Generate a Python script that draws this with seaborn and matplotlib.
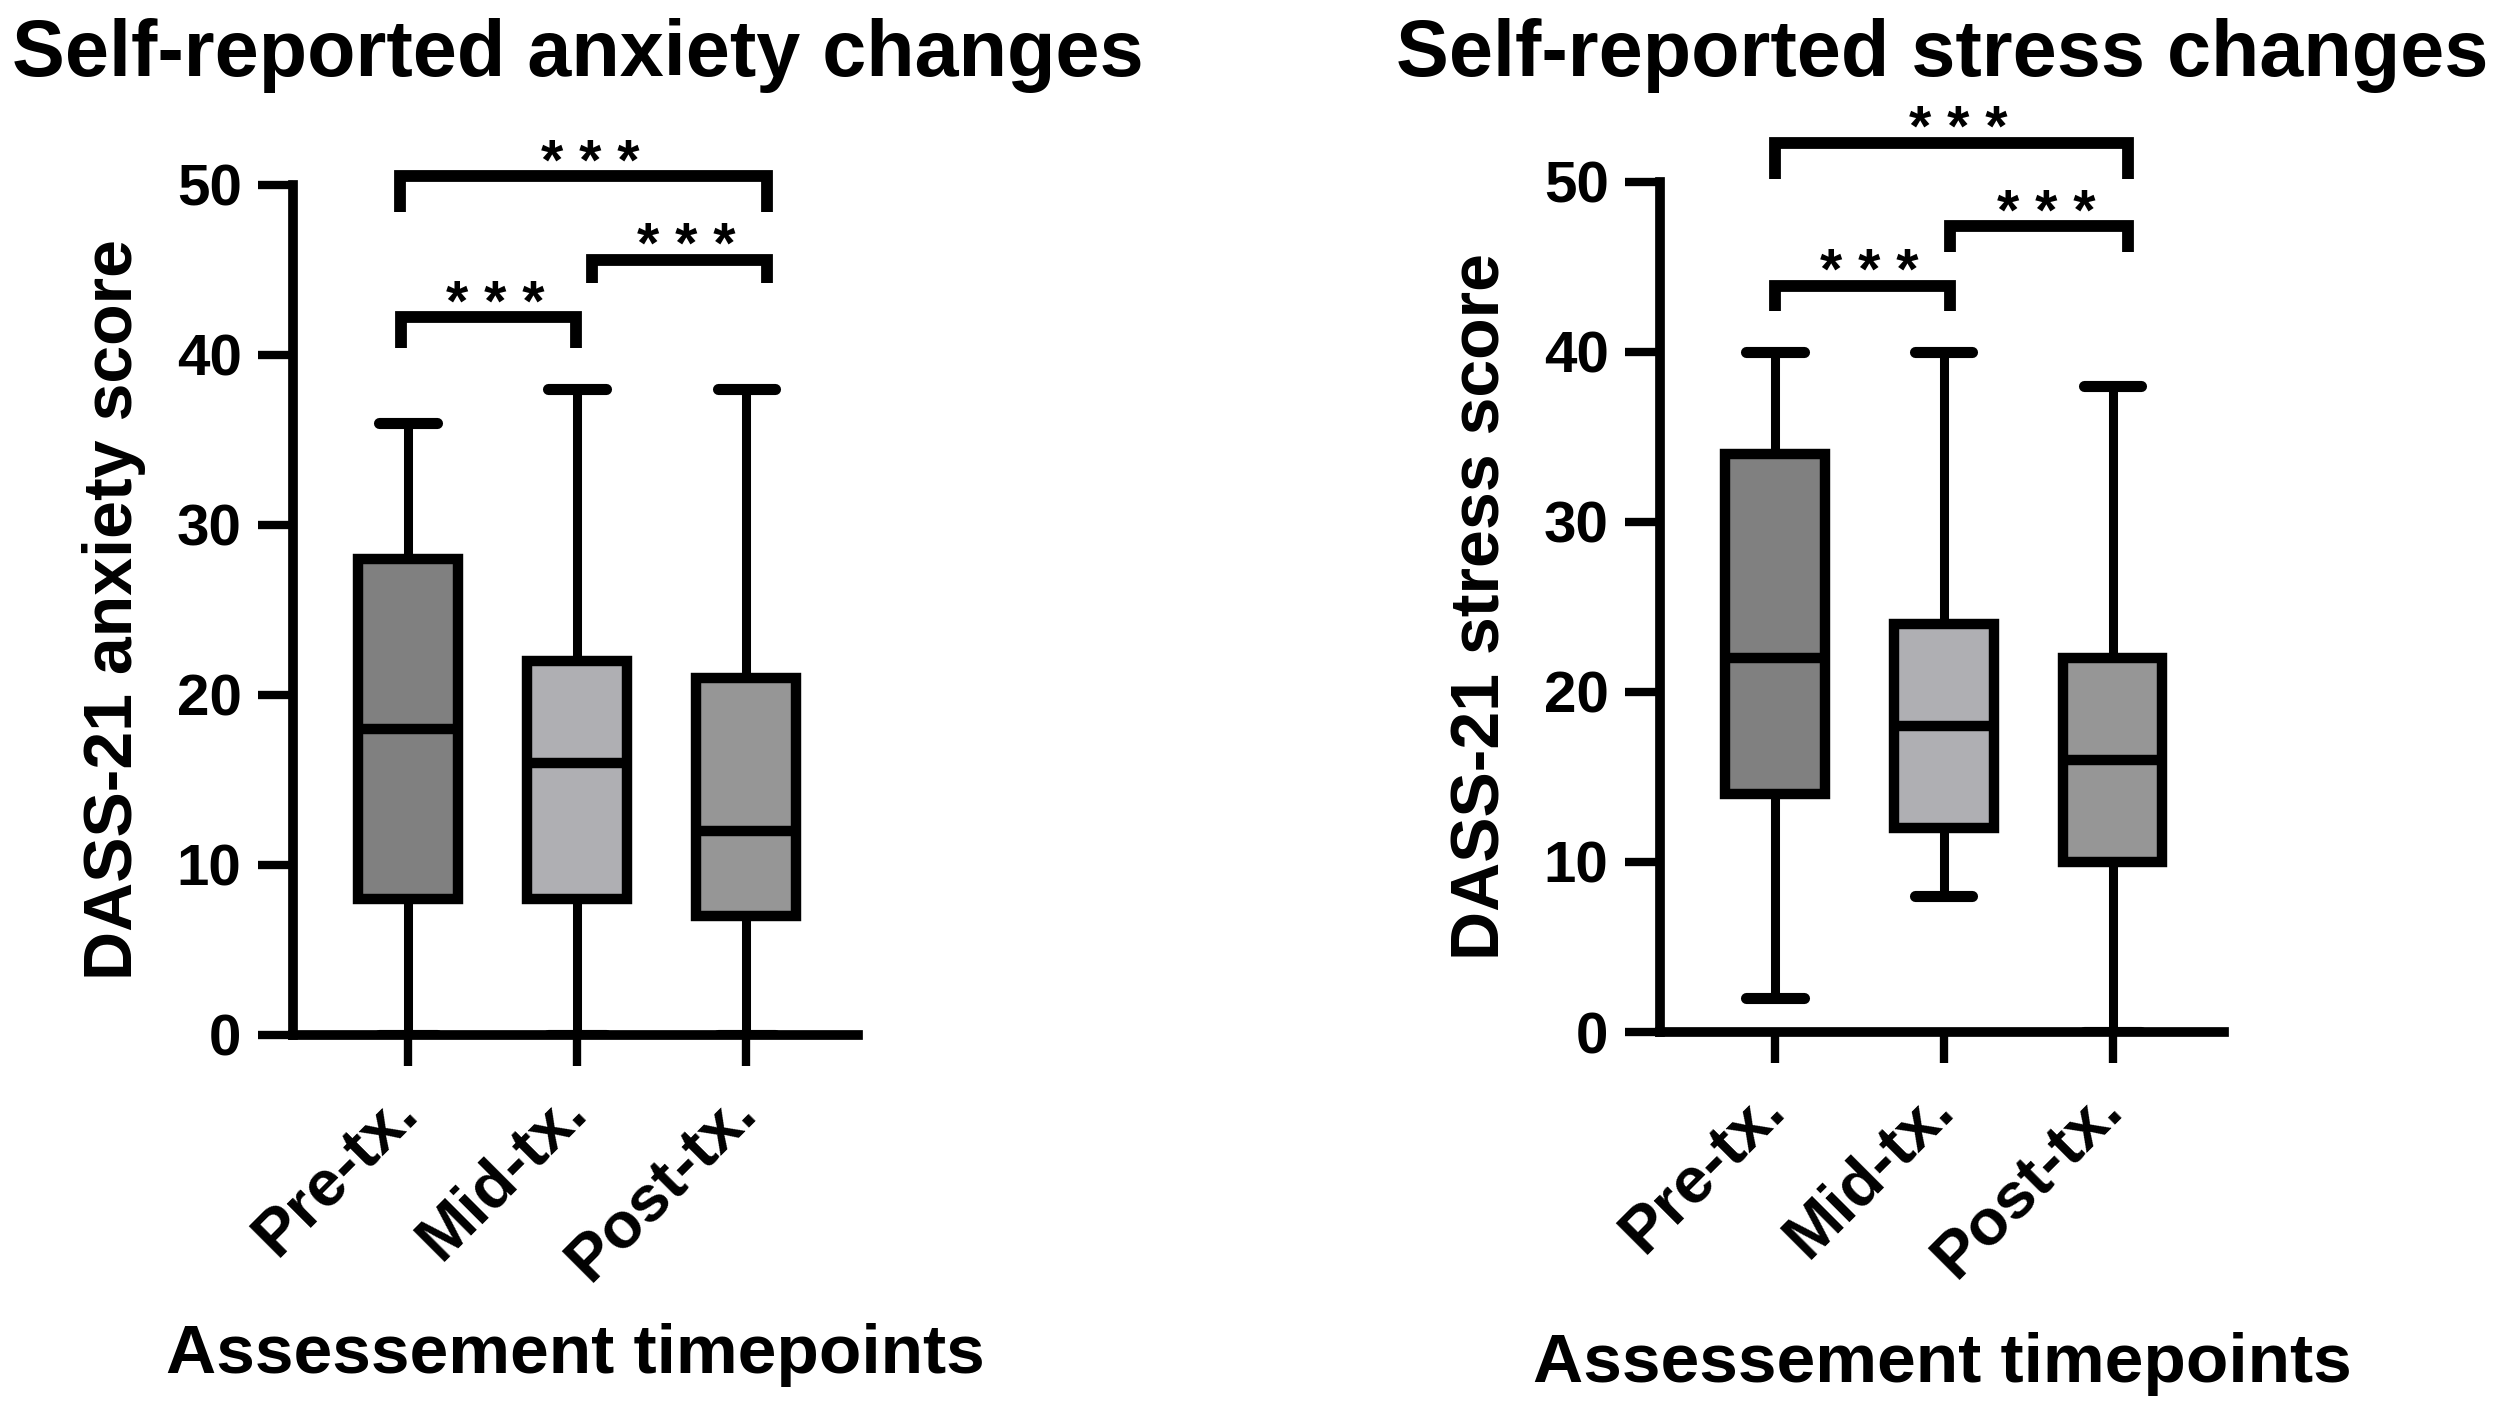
import numpy as np
import pandas as pd
import matplotlib
matplotlib.use('Agg')
import matplotlib.pyplot as plt
import seaborn as sns

timepoints = ['Pre-tx.', 'Mid-tx.', 'Post-tx.']
box_colors = ['#808080', '#afafb3', '#969696']

# five-number summaries: min, Q1, median, Q3, max
anxiety_pre = [0, 8, 18, 28, 36]
anxiety_mid = [0, 8, 16, 22, 38]
anxiety_post = [0, 7, 12, 21, 38]

stress_pre = [2, 14, 22, 34, 40]
stress_mid = [8, 12, 18, 24, 40]
stress_post = [0, 10, 16, 22, 38]

# significance brackets: x start, x end, bar height, leg drop, label
anxiety_brackets = [(-0.05, 2.12, 50.5, 2.1, '***'),
                    (1.09, 2.12, 45.6, 1.4, '***'),
                    (-0.04, 0.99, 42.2, 1.8, '***')]
stress_brackets = [(0.0, 2.09, 52.3, 2.1, '***'),
                   (1.04, 2.09, 47.4, 1.5, '***'),
                   (0.0, 1.04, 43.9, 1.5, '***')]

sns.set_theme(style='ticks')
plt.rcParams['font.family'] = ['Liberation Sans', 'DejaVu Sans']
plt.rcParams['font.weight'] = 'bold'
plt.rcParams['axes.labelweight'] = 'bold'
plt.rcParams['text.color'] = 'black'
plt.rcParams['axes.labelcolor'] = 'black'
plt.rcParams['xtick.color'] = 'black'
plt.rcParams['ytick.color'] = 'black'
plt.rcParams['axes.edgecolor'] = 'black'

fig = plt.figure(figsize=(25, 14.06), dpi=100)
ax1 = fig.add_axes([0.1172, 0.2639, 0.226, 0.6046])
ax2 = fig.add_axes([0.664, 0.2660, 0.2256, 0.6046])


def draw_panel(ax, groups, brackets, ylabel, xlabel_y):
    df = pd.DataFrame({'timepoint': np.repeat(timepoints, [len(g) for g in groups]),
                       'score': np.concatenate(groups)})
    sns.boxplot(data=df, x='timepoint', y='score', hue='timepoint',
                order=timepoints, hue_order=timepoints, palette=box_colors,
                width=0.59, whis=(0, 100), saturation=1, showfliers=False,
                linecolor='black', linewidth=7.5, legend=False, ax=ax,
                capwidths=0.34,
                whiskerprops=dict(linewidth=6.5),
                capprops=dict(linewidth=8, solid_capstyle='round'),
                medianprops=dict(linewidth=7.5))

    sns.despine(ax=ax)
    for side in ['left', 'bottom']:
        ax.spines[side].set_linewidth(7)
        ax.spines[side].set_color('black')
    ax.set_ylim(0, 50)
    ax.set_yticks(range(0, 51, 10))
    ax.set_xlim(-0.68, 2.66)
    ax.tick_params(axis='y', length=25, width=6, color='black', labelcolor='black',
                   labelsize=42, pad=12)
    ax.tick_params(axis='x', length=22, width=6, color='black', labelcolor='black',
                   labelsize=47, pad=26)
    for lbl in ax.get_xticklabels():
        lbl.set_rotation(45)
        lbl.set_ha('right')
        lbl.set_va('center')
        lbl.set_rotation_mode('anchor')
        lbl.set_fontweight('bold')
    for lbl in ax.get_yticklabels():
        lbl.set_fontweight('bold')

    ax.set_ylabel(ylabel, fontsize=49, fontweight='bold', color='black')
    ax.yaxis.set_label_coords(-0.26, 0.5)
    ax.set_xlabel('Assessement timepoints', fontsize=50, fontweight='bold', color='black')
    ax.xaxis.set_label_coords(0.5, xlabel_y)
    ax.xaxis.label.set_verticalalignment('baseline')

    for x0, x1, h, drop, label in brackets:
        ax.plot([x0, x0, x1, x1], [h - drop, h, h, h - drop], color='black',
                linewidth=8.5, solid_capstyle='butt', solid_joinstyle='miter',
                clip_on=False)
        ax.text((x0 + x1) / 2 + 0.04, h - 0.2, ' '.join(label),
                fontsize=41, fontweight='bold', color='black',
                ha='center', va='baseline', clip_on=False)


draw_panel(ax1, [anxiety_pre, anxiety_mid, anxiety_post], anxiety_brackets,
           'DASS-21 anxiety score', -0.398)
draw_panel(ax2, [stress_pre, stress_mid, stress_post], stress_brackets,
           'DASS-21 stress score', -0.412)

fig.text(12 / 2500, 1 - 76 / 1406, 'Self-reported anxiety changes',
         fontsize=57, fontweight='bold', ha='left', va='baseline', color='black')
fig.text(1396 / 2500, 1 - 76 / 1406, 'Self-reported stress changes',
         fontsize=57, fontweight='bold', ha='left', va='baseline', color='black')

fig.savefig('out.png', dpi=100, facecolor='white')
